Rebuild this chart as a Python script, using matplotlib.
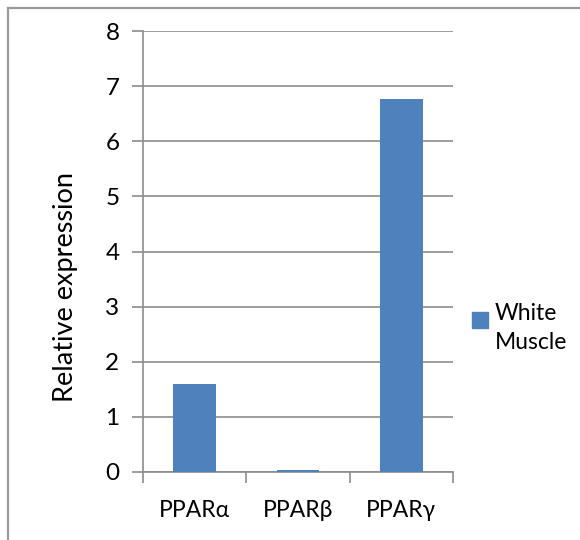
import matplotlib
matplotlib.use('Agg')
import matplotlib.pyplot as plt
from matplotlib.lines import Line2D
from matplotlib.patches import Rectangle

plt.rcParams['font.family'] = ['Lato', 'Open Sans', 'DejaVu Sans']

# Relative expression in white muscle
genes = ['PPARα', 'PPARβ', 'PPARγ']
white_muscle = [1.6, 0.03, 6.76]
series_name = 'White\nMuscle'
y_ticks = [0, 1, 2, 3, 4, 5, 6, 7, 8]

bar_col = '#4F81BD'
grid_col = '#8C8C8C'

fig = plt.figure(figsize=(5.8, 5.4), dpi=100)
ax = fig.add_axes([143/580, 68/540, 310/580, 441/540])

pos = [i + 0.5 for i in range(len(genes))]
ax.bar(pos, white_muscle, width=0.41, color=bar_col, zorder=3)

ax.set_xlim(0, len(genes))
ax.set_ylim(0, 8)
ax.set_yticks(y_ticks)
ax.set_yticklabels([str(v) for v in y_ticks], fontsize=17.5)
ax.yaxis.grid(True, color=grid_col, linewidth=1.2, zorder=0)

# category boundaries get the tick marks, labels sit between them
ax.set_xticks(range(len(genes) + 1))
ax.set_xticklabels([''] * (len(genes) + 1))
ax.set_xticks(pos, minor=True)
ax.set_xticklabels(genes, minor=True, fontsize=16.5)
ax.tick_params(axis='x', which='minor', length=0, pad=20)
ax.tick_params(axis='both', which='major', direction='out', length=8,
               width=1.2, color=grid_col)
ax.tick_params(axis='y', pad=9)

for s in ['top', 'right']:
    ax.spines[s].set_visible(False)
for s in ['left', 'bottom']:
    ax.spines[s].set_color(grid_col)
    ax.spines[s].set_linewidth(1.2)

ax.set_ylabel('Relative expression', fontsize=19.5)
ax.yaxis.set_label_coords(-0.21, 0.42)

# legend: colour key next to the first line of the series name
fig.add_artist(Rectangle((472/580, 1 - 328/540), 16/580, 16/540,
                         transform=fig.transFigure, color=bar_col))
fig.text(495/580, 1 - 303/540, series_name, fontsize=16.5, va='top',
         ha='left', linespacing=1.45)

# outer chart border (top and left edges)
fig.add_artist(Line2D([8/580, 1], [1 - 8/540, 1 - 8/540],
                      transform=fig.transFigure, color='#9A9A9A', lw=1.6))
fig.add_artist(Line2D([8/580, 8/580], [0, 1 - 8/540],
                      transform=fig.transFigure, color='#9A9A9A', lw=1.6))

fig.savefig('out.png', dpi=100)
plt.close('all')
